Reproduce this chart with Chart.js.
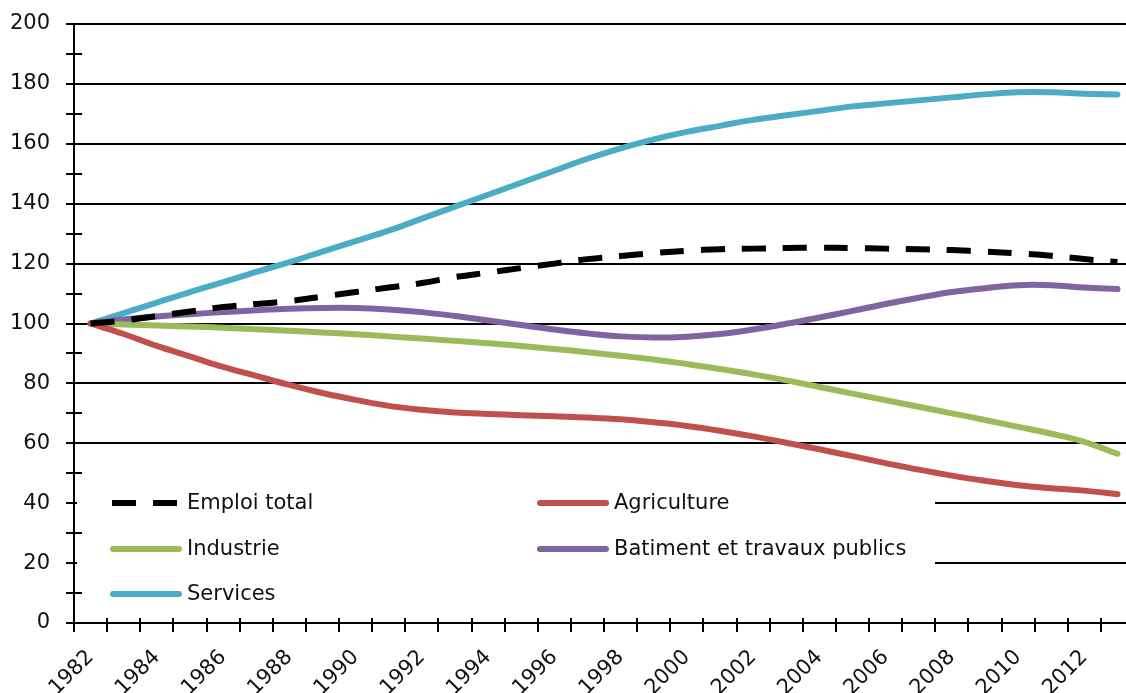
<!DOCTYPE html>
<html>
<head>
<meta charset="utf-8">
<script src="https://cdn.jsdelivr.net/npm/chart.js@4.4.0/dist/chart.umd.min.js"></script>
<style>
  html, body { margin: 0; padding: 0; background: #fff; overflow: hidden; width: 1126px; height: 693px; }
  #wrap { position: absolute; left: 0; top: 0; width: 1150px; height: 693px; }
</style>
</head>
<body>
<div id="wrap"><canvas id="chart" width="1150" height="693"></canvas></div>
<script>
// years on the x axis (the picture is cut just after 2013)
const years = ['1982','1983','1984','1985','1986','1987','1988','1989','1990','1991',
               '1992','1993','1994','1995','1996','1997','1998','1999','2000','2001',
               '2002','2003','2004','2005','2006','2007','2008','2009','2010','2011',
               '2012','2013'];

// index, base 100 in 1982
const emploiTotal = [100, 101, 102.5, 104, 105.5, 106.5, 107.5, 109, 110.5, 112,
                     113.5, 115.5, 117, 118.5, 120, 121.5, 122.5, 123.5, 124.3, 124.8,
                     125, 125.2, 125.3, 125.2, 125, 124.8, 124.5, 124, 123.4, 122.6,
                     121.5, 120.5];
const agriculture = [100, 96.5, 92.5, 89, 85.5, 82.5, 79.5, 76.8, 74.5, 72.5,
                     71.2, 70.3, 69.8, 69.4, 69, 68.6, 68, 67, 65.8, 64.2,
                     62.3, 60.2, 58, 55.7, 53.4, 51.2, 49.2, 47.5, 46, 45,
                     44.2, 43];
const industrie = [100, 99.7, 99.3, 99, 98.6, 98.1, 97.6, 97, 96.4, 95.7,
                   95, 94.2, 93.4, 92.5, 91.5, 90.4, 89.2, 88, 86.5, 84.8,
                   83, 81, 78.8, 76.6, 74.4, 72.2, 70, 67.8, 65.5, 63.2,
                   60.5, 56.5];
const batiment = [100, 101.3, 102.3, 103.1, 103.8, 104.4, 104.9, 105.2, 105.2, 104.7,
                  103.8, 102.5, 101, 99.5, 98, 96.7, 95.7, 95.3, 95.6, 96.5,
                  98, 99.9, 102, 104.2, 106.5, 108.6, 110.5, 111.8, 112.8, 112.8,
                  112, 111.5];
const services = [100, 103.5, 107, 110.5, 113.8, 117.2, 120.5, 124, 127.5, 131,
                  135, 139, 143, 147, 151, 155, 158.5, 161.5, 164, 166,
                  168, 169.5, 171, 172.5, 173.5, 174.5, 175.5, 176.5, 177.2, 177.2,
                  176.7, 176.5];

const yTicks = [0, 20, 40, 60, 80, 100, 120, 140, 160, 180, 200];

const FONT = { family: '"DejaVu Sans", sans-serif', size: 21 };
const TEXT = '#111';

// legend placed inside the plot like in the excel chart (2 columns)
const legendBox = { left: 77, top: 481, right: 935, bottom: 613 };
const legendCols = [110, 537];
const legendRows = [503, 549, 594];

const legendInside = {
    id: 'legendInside',
    afterDraw(chart) {
        const ctx = chart.ctx;
        ctx.save();
        ctx.fillStyle = '#fff';
        ctx.fillRect(legendBox.left, legendBox.top, legendBox.right - legendBox.left, legendBox.bottom - legendBox.top);

        chart.data.datasets.forEach(function(ds, i) {
            const x = legendCols[i % 2];
            const y = legendRows[Math.floor(i / 2)];
            ctx.strokeStyle = ds.borderColor;
            ctx.lineWidth = ds.borderWidth;
            ctx.beginPath();
            if (ds.borderDash && ds.borderDash.length) {
                ctx.setLineDash(ds.borderDash);
                ctx.lineCap = 'butt';
                ctx.moveTo(x + 2, y);
                ctx.lineTo(x + 69, y);
            } else {
                ctx.setLineDash([]);
                ctx.lineCap = 'round';
                ctx.moveTo(x + 3, y);
                ctx.lineTo(x + 69, y);
            }
            ctx.stroke();
            ctx.setLineDash([]);
            ctx.fillStyle = TEXT;
            ctx.font = FONT.size + 'px ' + FONT.family;
            ctx.textAlign = 'left';
            ctx.textBaseline = 'middle';
            ctx.fillText(ds.label, x + 77, y + 1);
        });

        // tick marks: outward on the y axis, crossing for the minor ones
        const xs = chart.scales.x, ys = chart.scales.y;
        ctx.strokeStyle = '#000';
        ctx.lineWidth = 2;
        ctx.lineCap = 'butt';
        ys.ticks.forEach(function(t) {
            const py = Math.round(ys.getPixelForValue(t.value));
            const minor = t.value % 20 !== 0;
            ctx.beginPath();
            ctx.moveTo(xs.left - 8, py);
            ctx.lineTo(minor ? xs.left + 8 : xs.left, py);
            ctx.stroke();
        });
        const half = (xs.getPixelForTick(1) - xs.getPixelForTick(0)) / 2;
        for (let i = 0; i < years.length; i++) {
            const px = Math.round(xs.getPixelForTick(i) - half);
            ctx.beginPath();
            ctx.moveTo(px, ys.bottom);
            ctx.lineTo(px, ys.bottom - 5);
            ctx.stroke();
        }
        ctx.restore();
    }
};

function line(label, data, color, dash) {
    return {
        label: label,
        data: data,
        borderColor: color,
        backgroundColor: color,
        borderWidth: 6,
        borderDash: dash || [],
        borderCapStyle: dash ? 'butt' : 'round',
        pointRadius: 0,
        tension: 0.4,
        fill: false
    };
}

new Chart(document.getElementById('chart'), {
    type: 'line',
    data: {
        labels: years,
        datasets: [
            line('Emploi total', emploiTotal, '#000000', [24, 17]),
            line('Agriculture', agriculture, '#C0504D'),
            line('Industrie', industrie, '#9BBB59'),
            line('Batiment et travaux publics', batiment, '#8064A2'),
            line('Services', services, '#4BACC6')
        ]
    },
    options: {
        responsive: false,
        animation: false,
        devicePixelRatio: 1,
        layout: { padding: { top: 24, right: 16, left: 0, bottom: 0 } },
        plugins: { legend: { display: false }, tooltip: { enabled: false } },
        scales: {
            x: {
                type: 'category',
                offset: true,
                grid: { offset: true, drawOnChartArea: false, drawTicks: true, tickLength: 9, color: '#000', lineWidth: 2 },
                border: { color: '#000', width: 2 },
                ticks: {
                    autoSkip: false,
                    maxRotation: 45,
                    minRotation: 45,
                    color: TEXT,
                    font: FONT,
                    padding: 13,
                    callback: function(v, i) { return i % 2 === 0 ? years[i] : ''; }
                },
                afterFit: function(s) { s.height = 70; }
            },
            y: {
                min: 0,
                max: 200,
                grid: {
                    color: function(c) { return c.tick && c.tick.value % 20 === 0 ? '#000' : 'rgba(0,0,0,0)'; },
                    tickColor: 'rgba(0,0,0,0)',
                    lineWidth: 2,
                    tickLength: 13
                },
                border: { color: '#000', width: 2 },
                ticks: {
                    stepSize: 10,
                    color: TEXT,
                    font: FONT,
                    padding: 11,
                    callback: function(v) { return yTicks.indexOf(v) >= 0 ? v : ''; }
                },
                afterFit: function(s) { s.width = 74; }
            }
        }
    },
    plugins: [legendInside]
});
</script>
</body>
</html>
